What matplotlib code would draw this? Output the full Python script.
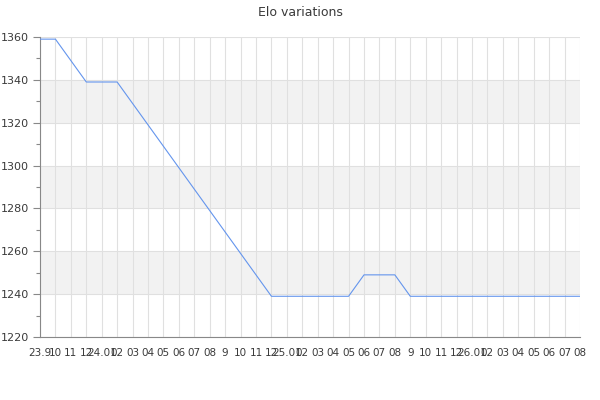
"""Elo variations line chart"""
import numpy as np
import matplotlib
matplotlib.use('Agg')
import matplotlib.pyplot as plt
from matplotlib.ticker import MultipleLocator

labels = ['23.9', '10', '11', '12',
          '24.01', '02', '03', '04', '05', '06', '07', '08', '9', '10', '11', '12',
          '25.01', '02', '03', '04', '05', '06', '07', '08', '9', '10', '11', '12',
          '26.01', '02', '03', '04', '05', '06', '07', '08']
elo = [1359, 1359, 1349, 1339, 1339, 1339, 1329, 1319, 1309, 1299, 1289,
       1279, 1269, 1259, 1249, 1239, 1239, 1239, 1239, 1239, 1239, 1249,
       1249, 1249, 1239, 1239, 1239, 1239, 1239, 1239, 1239, 1239, 1239,
       1239, 1239, 1239]
bands = [(1240, 1260), (1280, 1300), (1320, 1340)]

x = np.arange(len(elo))

fig = plt.figure(figsize=(6, 4), dpi=100)
ax = fig.add_axes([40/600, 1 - 337/400, 540/600, 300/400])

for lo, hi in bands:
    ax.axhspan(lo, hi, color='#f2f2f2', zorder=0, lw=0)

ax.plot(x, elo, color='#6495ed', lw=0.8, zorder=3)

ax.set_xlim(0, len(elo) - 1)
ax.set_ylim(1220, 1360)
ax.set_xticks(x)
ax.set_xticklabels(labels)
ax.yaxis.set_major_locator(MultipleLocator(20))
ax.yaxis.set_minor_locator(MultipleLocator(10))

ax.grid(True, which='major', color='#e0e0e0', lw=0.8, zorder=1)
ax.set_axisbelow(True)

for side in ['top', 'right']:
    ax.spines[side].set_visible(False)
for side in ['left', 'bottom']:
    ax.spines[side].set_color('#888888')
    ax.spines[side].set_linewidth(0.8)

ax.tick_params(axis='x', length=0, pad=8, labelsize=7.5, labelcolor='#3a3a3a')
ax.tick_params(axis='y', which='major', length=5, width=0.8, color='#888888',
               pad=3, labelsize=8, labelcolor='#3a3a3a')
ax.tick_params(axis='y', which='minor', length=3, width=0.8, color='#888888')

fig.suptitle('Elo variations', y=0.985, fontsize=9, color='#3a3a3a')

fig.savefig('out.png', dpi=100)
